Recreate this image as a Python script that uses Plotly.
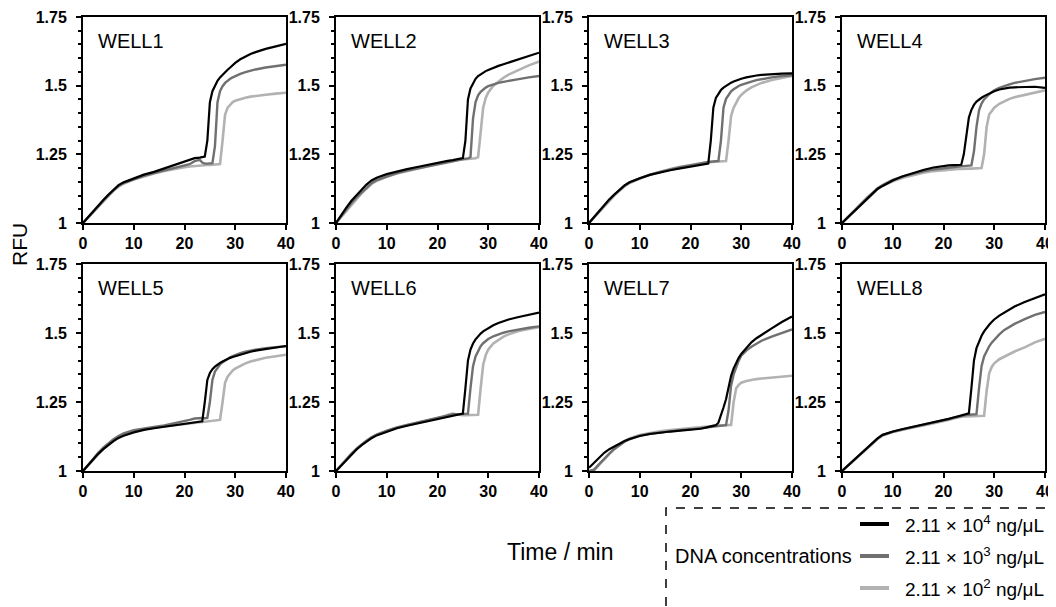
import plotly.graph_objects as go

# Browser body has an 8px default margin: the figure is sized so it fits the 1056x607 window.
OFF = 8
W, H = 1056 - OFF, 607 - OFF

TIME = [0, 1, 2, 3, 4, 5, 6, 7, 8, 10, 12, 14, 16, 18, 20, 21, 22, 23, 23.5, 24, 24.5, 25, 25.5,
        26, 26.5, 27, 27.5, 28, 28.5, 29, 29.5, 30, 31, 32, 33, 34, 36, 38, 40]

WELLS = ["WELL1", "WELL2", "WELL3", "WELL4", "WELL5", "WELL6", "WELL7", "WELL8"]
SERIES = ["2.11 × 10<sup>4</sup> ng/μL", "2.11 × 10<sup>3</sup> ng/μL", "2.11 × 10<sup>2</sup> ng/μL"]
LEGEND_TITLE = "DNA concentrations"

# ---- WELL1 ----
W1_HI = [1.000, 1.022, 1.043, 1.064, 1.084, 1.103, 1.121, 1.138, 1.148, 1.163, 1.176, 1.186, 1.198, 1.212, 1.224, 1.230, 1.236, 1.238, 1.240, 1.242, 1.300, 1.440, 1.480,
         1.502, 1.518, 1.530, 1.540, 1.550, 1.558, 1.566, 1.575, 1.583, 1.596, 1.606, 1.615, 1.622, 1.634, 1.643, 1.652]
W1_MID = [1.000, 1.021, 1.042, 1.062, 1.082, 1.101, 1.119, 1.135, 1.146, 1.160, 1.172, 1.182, 1.191, 1.199, 1.207, 1.214, 1.225, 1.230, 1.220, 1.216, 1.216, 1.216, 1.218,
          1.280, 1.440, 1.480, 1.498, 1.510, 1.518, 1.525, 1.530, 1.535, 1.543, 1.549, 1.555, 1.559, 1.566, 1.572, 1.576]
W1_LO = [1.000, 1.020, 1.041, 1.061, 1.080, 1.099, 1.117, 1.132, 1.143, 1.158, 1.170, 1.180, 1.189, 1.197, 1.203, 1.206, 1.208, 1.210, 1.210, 1.210, 1.211, 1.211, 1.212,
         1.212, 1.213, 1.215, 1.300, 1.395, 1.420, 1.432, 1.440, 1.445, 1.451, 1.456, 1.460, 1.463, 1.467, 1.471, 1.474]
# ---- WELL2 ----
W2_HI = [1.000, 1.030, 1.055, 1.080, 1.100, 1.120, 1.140, 1.155, 1.165, 1.178, 1.188, 1.196, 1.204, 1.212, 1.219, 1.222, 1.226, 1.229, 1.231, 1.233, 1.234, 1.236, 1.300,
         1.450, 1.490, 1.510, 1.525, 1.535, 1.542, 1.548, 1.553, 1.557, 1.565, 1.572, 1.578, 1.584, 1.596, 1.608, 1.620]
W2_MID = [1.000, 1.025, 1.050, 1.072, 1.092, 1.110, 1.128, 1.145, 1.156, 1.170, 1.182, 1.191, 1.199, 1.207, 1.215, 1.219, 1.223, 1.227, 1.229, 1.231, 1.232, 1.233, 1.234,
          1.235, 1.240, 1.380, 1.440, 1.465, 1.478, 1.487, 1.493, 1.498, 1.505, 1.510, 1.514, 1.518, 1.524, 1.530, 1.535]
W2_LO = [1.000, 1.022, 1.045, 1.067, 1.088, 1.107, 1.125, 1.142, 1.153, 1.168, 1.180, 1.190, 1.198, 1.206, 1.214, 1.218, 1.222, 1.226, 1.228, 1.229, 1.230, 1.231, 1.232,
         1.233, 1.234, 1.235, 1.236, 1.240, 1.340, 1.420, 1.455, 1.475, 1.500, 1.516, 1.529, 1.540, 1.558, 1.574, 1.588]
# ---- WELL3 ----
W3_HI = [1.000, 1.022, 1.044, 1.066, 1.086, 1.104, 1.121, 1.137, 1.148, 1.163, 1.175, 1.184, 1.192, 1.199, 1.206, 1.209, 1.212, 1.214, 1.216, 1.300, 1.420, 1.455, 1.472,
         1.484, 1.493, 1.500, 1.506, 1.511, 1.515, 1.519, 1.522, 1.525, 1.530, 1.534, 1.537, 1.539, 1.542, 1.544, 1.545]
W3_MID = [1.000, 1.022, 1.044, 1.065, 1.085, 1.103, 1.120, 1.136, 1.148, 1.163, 1.176, 1.186, 1.195, 1.203, 1.210, 1.214, 1.218, 1.221, 1.222, 1.223, 1.224, 1.225, 1.226,
          1.300, 1.420, 1.452, 1.468, 1.479, 1.487, 1.494, 1.499, 1.503, 1.510, 1.515, 1.520, 1.524, 1.530, 1.535, 1.538]
W3_LO = [1.000, 1.020, 1.041, 1.062, 1.082, 1.100, 1.117, 1.133, 1.145, 1.162, 1.176, 1.187, 1.197, 1.205, 1.212, 1.215, 1.218, 1.220, 1.221, 1.222, 1.223, 1.223, 1.224,
         1.224, 1.225, 1.226, 1.300, 1.390, 1.420, 1.440, 1.455, 1.466, 1.482, 1.494, 1.503, 1.510, 1.521, 1.529, 1.535]
# ---- WELL4 ----
W4_HI = [1.000, 1.018, 1.036, 1.054, 1.072, 1.090, 1.107, 1.124, 1.135, 1.155, 1.170, 1.182, 1.193, 1.202, 1.208, 1.210, 1.211, 1.211, 1.212, 1.250, 1.320, 1.384, 1.412,
         1.430, 1.442, 1.450, 1.456, 1.462, 1.467, 1.472, 1.476, 1.480, 1.486, 1.490, 1.493, 1.494, 1.496, 1.496, 1.492]
W4_MID = [1.000, 1.019, 1.038, 1.057, 1.075, 1.093, 1.110, 1.127, 1.138, 1.157, 1.170, 1.180, 1.188, 1.195, 1.200, 1.202, 1.204, 1.205, 1.206, 1.207, 1.208, 1.209, 1.210,
          1.260, 1.350, 1.410, 1.435, 1.450, 1.461, 1.469, 1.476, 1.483, 1.492, 1.499, 1.505, 1.510, 1.518, 1.524, 1.529]
W4_LO = [1.000, 1.018, 1.036, 1.055, 1.073, 1.091, 1.108, 1.124, 1.135, 1.152, 1.165, 1.175, 1.183, 1.189, 1.193, 1.195, 1.196, 1.197, 1.197, 1.198, 1.198, 1.198, 1.198,
         1.198, 1.198, 1.198, 1.200, 1.250, 1.350, 1.395, 1.410, 1.420, 1.434, 1.444, 1.452, 1.458, 1.467, 1.475, 1.483]
# ---- WELL5 ----
W5_HI = [1.000, 1.022, 1.043, 1.062, 1.079, 1.094, 1.108, 1.120, 1.128, 1.140, 1.149, 1.155, 1.160, 1.165, 1.170, 1.172, 1.175, 1.178, 1.180, 1.250, 1.330, 1.355, 1.369,
         1.378, 1.386, 1.392, 1.397, 1.402, 1.406, 1.410, 1.413, 1.416, 1.422, 1.427, 1.432, 1.436, 1.442, 1.448, 1.453]
W5_MID = [1.000, 1.023, 1.045, 1.066, 1.085, 1.101, 1.115, 1.127, 1.136, 1.148, 1.155, 1.160, 1.165, 1.172, 1.180, 1.185, 1.190, 1.193, 1.192, 1.191, 1.192, 1.250, 1.330,
          1.360, 1.375, 1.386, 1.394, 1.401, 1.407, 1.412, 1.416, 1.420, 1.427, 1.432, 1.436, 1.440, 1.445, 1.449, 1.452]
W5_LO = [1.000, 1.021, 1.042, 1.062, 1.080, 1.096, 1.110, 1.122, 1.131, 1.143, 1.151, 1.157, 1.162, 1.166, 1.170, 1.172, 1.174, 1.176, 1.177, 1.178, 1.179, 1.180, 1.181,
         1.182, 1.183, 1.185, 1.250, 1.320, 1.342, 1.355, 1.364, 1.371, 1.382, 1.390, 1.397, 1.402, 1.410, 1.416, 1.421]
# ---- WELL6 ----
W6_HI = [1.000, 1.020, 1.040, 1.059, 1.077, 1.093, 1.107, 1.119, 1.129, 1.143, 1.155, 1.164, 1.172, 1.180, 1.188, 1.192, 1.196, 1.200, 1.202, 1.204, 1.206, 1.208, 1.300,
         1.400, 1.440, 1.462, 1.477, 1.489, 1.498, 1.506, 1.512, 1.518, 1.528, 1.536, 1.543, 1.549, 1.558, 1.566, 1.574]
W6_MID = [1.000, 1.021, 1.042, 1.062, 1.080, 1.096, 1.110, 1.122, 1.132, 1.146, 1.158, 1.167, 1.175, 1.183, 1.191, 1.196, 1.201, 1.206, 1.207, 1.206, 1.206, 1.207, 1.207,
          1.208, 1.300, 1.380, 1.415, 1.437, 1.452, 1.463, 1.471, 1.478, 1.488, 1.495, 1.501, 1.506, 1.513, 1.519, 1.524]
W6_LO = [1.000, 1.020, 1.041, 1.061, 1.079, 1.095, 1.109, 1.121, 1.131, 1.145, 1.157, 1.166, 1.174, 1.182, 1.190, 1.196, 1.203, 1.208, 1.206, 1.204, 1.203, 1.202, 1.202,
         1.202, 1.202, 1.202, 1.202, 1.204, 1.300, 1.385, 1.420, 1.440, 1.462, 1.476, 1.487, 1.495, 1.507, 1.515, 1.521]
# ---- WELL7 ----
W7_HI = [1.012, 1.030, 1.048, 1.066, 1.079, 1.090, 1.100, 1.109, 1.116, 1.127, 1.134, 1.139, 1.143, 1.146, 1.149, 1.151, 1.153, 1.157, 1.159, 1.161, 1.163, 1.166, 1.175,
         1.200, 1.230, 1.260, 1.305, 1.345, 1.372, 1.393, 1.410, 1.424, 1.447, 1.466, 1.481, 1.494, 1.517, 1.540, 1.560]
W7_MID = [1.000, 1.005, 1.025, 1.045, 1.063, 1.080, 1.094, 1.106, 1.115, 1.128, 1.135, 1.140, 1.144, 1.148, 1.151, 1.153, 1.155, 1.158, 1.160, 1.161, 1.162, 1.163, 1.164,
          1.165, 1.165, 1.166, 1.220, 1.310, 1.350, 1.378, 1.400, 1.418, 1.436, 1.450, 1.462, 1.472, 1.487, 1.500, 1.513]
W7_LO = [1.000, 1.002, 1.022, 1.043, 1.062, 1.080, 1.096, 1.108, 1.118, 1.130, 1.138, 1.144, 1.148, 1.152, 1.155, 1.157, 1.159, 1.161, 1.162, 1.163, 1.164, 1.165, 1.165,
         1.166, 1.166, 1.166, 1.166, 1.167, 1.250, 1.300, 1.312, 1.320, 1.326, 1.330, 1.333, 1.335, 1.339, 1.342, 1.345]
# ---- WELL8 ----
W8_HI = [1.000, 1.017, 1.034, 1.051, 1.067, 1.083, 1.100, 1.118, 1.131, 1.143, 1.152, 1.160, 1.167, 1.175, 1.184, 1.189, 1.194, 1.199, 1.202, 1.205, 1.207, 1.209, 1.300,
         1.400, 1.445, 1.470, 1.490, 1.506, 1.519, 1.530, 1.540, 1.549, 1.563, 1.575, 1.586, 1.596, 1.612, 1.627, 1.640]
W8_MID = [1.000, 1.017, 1.034, 1.051, 1.067, 1.083, 1.100, 1.117, 1.130, 1.142, 1.151, 1.159, 1.166, 1.174, 1.183, 1.188, 1.193, 1.198, 1.200, 1.202, 1.203, 1.204, 1.205,
          1.205, 1.206, 1.300, 1.380, 1.415, 1.437, 1.452, 1.465, 1.476, 1.495, 1.511, 1.523, 1.533, 1.550, 1.566, 1.576]
W8_LO = [1.000, 1.016, 1.033, 1.050, 1.066, 1.082, 1.099, 1.116, 1.129, 1.141, 1.150, 1.158, 1.165, 1.172, 1.180, 1.185, 1.190, 1.195, 1.197, 1.198, 1.198, 1.198, 1.198,
         1.198, 1.198, 1.198, 1.198, 1.200, 1.290, 1.354, 1.377, 1.390, 1.405, 1.415, 1.425, 1.433, 1.448, 1.466, 1.479]

DATA = [
    (W1_HI, W1_MID, W1_LO), (W2_HI, W2_MID, W2_LO), (W3_HI, W3_MID, W3_LO), (W4_HI, W4_MID, W4_LO),
    (W5_HI, W5_MID, W5_LO), (W6_HI, W6_MID, W6_LO), (W7_HI, W7_MID, W7_LO), (W8_HI, W8_MID, W8_LO),
]

X_TICKS = [0, 10, 20, 30, 40]
Y_TICKS = [1, 1.25, 1.5, 1.75]
Y_TICK_TEXT = ["1", "1.25", "1.5", "1.75"]

COLORS = ["#000000", "#707070", "#b2b2b2"]
WIDTHS = [2.2, 2.4, 2.6]

FONT = "Liberation Sans, Arial, sans-serif"

# panel boxes in window pixels: (left, right) and (top, bottom)
COLS_PX = [(83, 286), (336, 539), (589, 792), (842, 1045)]
ROWS_PX = [(17, 223), (264, 471)]


def px(xw):
    return (xw - OFF) / W


def py(yw):
    return 1 - (yw - OFF) / H


fig = go.Figure()
layout = dict(
    width=W, height=H,
    margin=dict(l=0, r=0, t=0, b=0, pad=0, autoexpand=False),
    paper_bgcolor="white", plot_bgcolor="white",
    showlegend=False,
    font=dict(family=FONT, color="black"),
)

annotations = []
shapes = []

for i, well in enumerate(WELLS):
    r, c = divmod(i, 4)
    n = i + 1
    xa = "x" if n == 1 else f"x{n}"
    ya = "y" if n == 1 else f"y{n}"
    xl, xr = COLS_PX[c]
    yt, yb = ROWS_PX[r]
    layout["xaxis" if n == 1 else f"xaxis{n}"] = dict(
        domain=[px(xl), px(xr)], anchor=ya, range=[0, 40], automargin=False,
        tickvals=X_TICKS, ticks="outside", ticklen=5, tickwidth=2, tickcolor="black",
        showline=True, linewidth=2, linecolor="black", mirror=True,
        showgrid=False, zeroline=False,
        tickfont=dict(family=FONT, size=16, color="black", weight="bold"),
    )
    layout["yaxis" if n == 1 else f"yaxis{n}"] = dict(
        domain=[py(yb), py(yt)], anchor=xa, range=[1, 1.75], automargin=False,
        tickvals=Y_TICKS, ticktext=Y_TICK_TEXT, ticks="outside", ticklen=5, tickwidth=2,
        tickcolor="black", ticklabelstandoff=6,
        minor=dict(dtick=0.05, tick0=1, ticks="outside", ticklen=3, tickwidth=1.5, tickcolor="black"),
        showline=True, linewidth=2, linecolor="black", mirror=True,
        showgrid=False, zeroline=False,
        tickfont=dict(family=FONT, size=16, color="black", weight="bold"),
    )
    for k in (2, 1, 0):
        fig.add_trace(go.Scatter(
            x=TIME, y=DATA[i][k], mode="lines", name=SERIES[k],
            line=dict(color=COLORS[k], width=WIDTHS[k]),
            xaxis=xa, yaxis=ya, showlegend=False,
        ))
    annotations.append(dict(
        text=well, xref="paper", yref="paper",
        x=px(xl + 13), y=py(yt + 24), xanchor="left", yanchor="middle",
        showarrow=False, font=dict(family=FONT, size=20, color="black"),
    ))

# axis titles
annotations.append(dict(text="RFU", xref="paper", yref="paper", x=px(20), y=py(245),
                        textangle=-90, showarrow=False, xanchor="center", yanchor="middle",
                        font=dict(family=FONT, size=21, color="black")))
annotations.append(dict(text="Time / min", xref="paper", yref="paper", x=px(560), y=py(552),
                        showarrow=False, xanchor="center", yanchor="middle",
                        font=dict(family=FONT, size=23, color="black")))

# custom legend box
shapes.append(dict(type="rect", xref="paper", yref="paper",
                   x0=px(666), x1=px(1052), y0=-0.05, y1=py(508),
                   line=dict(color="black", width=1.5, dash="dash"), fillcolor="rgba(0,0,0,0)"))
annotations.append(dict(text=LEGEND_TITLE, xref="paper", yref="paper", x=px(673), y=py(556),
                        showarrow=False, xanchor="left", yanchor="middle",
                        font=dict(family=FONT, size=20, color="black")))
for k, yy in enumerate([524, 556, 588]):
    shapes.append(dict(type="line", xref="paper", yref="paper",
                       x0=px(860), x1=px(889), y0=py(yy), y1=py(yy),
                       line=dict(color=COLORS[k], width=4)))
    annotations.append(dict(text=SERIES[k], xref="paper", yref="paper", x=px(903), y=py(yy),
                            showarrow=False, xanchor="left", yanchor="middle",
                            font=dict(family=FONT, size=19, color="black")))

layout["annotations"] = annotations
layout["shapes"] = shapes
fig.update_layout(**layout)
fig.write_html("out.html")
